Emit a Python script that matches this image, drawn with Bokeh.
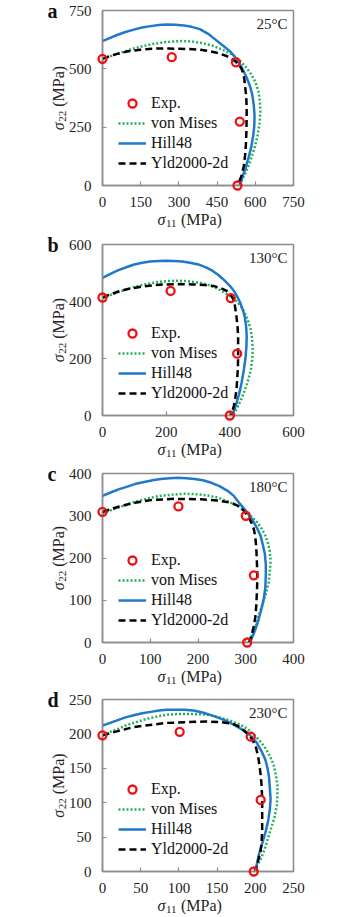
import math
from bokeh.plotting import figure
from bokeh.layouts import column
from bokeh.models import Legend, LegendItem, Label, FixedTicker, Range1d
from bokeh.core.properties import value
from bokeh.embed import file_html
from bokeh.resources import INLINE

FONT = "Liberation Serif"
GRAY = "#8c8c8c"
C_EXP = "#EE1111"
C_VM = "#22B05A"
C_HILL = "#1F78C8"
C_YLD = "#000000"

# ---------------- panel a : 25 C ----------------
a_exp_x = [0, 272, 524, 539, 530]
a_exp_y = [543, 550, 528, 274, 0]
a_vm_x = [0, 35, 70, 110, 150, 190, 230, 270, 310, 350, 390, 430, 470, 505, 535, 560, 582, 600, 612, 618, 620, 617, 610, 598, 582, 562, 537]
a_vm_y = [543, 555, 568, 583, 595, 605, 612, 617, 619, 617, 611, 600, 583, 563, 540, 512, 480, 445, 405, 360, 315, 270, 220, 165, 110, 55, 0]
a_hill_x = [0, 30, 60, 90, 123, 155, 190, 220, 252, 285, 320, 350, 382, 415, 446, 475, 500, 520, 537, 552, 565, 578, 588, 594, 597, 596, 592, 585, 575, 563, 550, 539]
a_hill_y = [619, 633, 646, 658, 668, 677, 683, 688, 690, 689, 686, 680, 670, 650, 623, 598, 576, 551, 523, 495, 465, 430, 390, 345, 300, 255, 215, 170, 125, 80, 38, 0]
a_yld_x = [0, 30, 60, 100, 149, 213, 260, 300, 340, 382, 420, 455, 485, 505, 522, 537, 547, 553, 557, 560, 563, 565, 566, 566, 565, 563, 560, 555, 547, 538, 530]
a_yld_y = [543, 555, 565, 575, 582, 587, 587, 586, 585, 582, 576, 567, 556, 545, 532, 516, 498, 478, 455, 425, 395, 366, 330, 290, 230, 175, 130, 85, 45, 20, 0]

# ---------------- panel b : 130 C ----------------
b_exp_x = [0, 214, 403, 423, 400]
b_exp_y = [414, 437, 412, 217, 0]
b_vm_x = [0, 30, 60, 90, 120, 150, 180, 210, 240, 270, 300, 330, 352, 375, 400, 423, 440, 455, 465, 470, 472, 470, 466, 459, 452, 443, 433, 422, 410]
b_vm_y = [412, 425, 437, 448, 457, 464, 469, 472, 473, 471, 467, 459, 450, 437, 419, 399, 375, 340, 305, 270, 230, 195, 160, 130, 104, 77, 50, 25, 0]
b_hill_x = [0, 25, 50, 75, 97, 125, 150, 175, 199, 225, 250, 275, 301, 325, 345, 365, 383, 400, 413, 423, 433, 441, 447, 451, 453, 452, 449, 444, 437, 429, 420, 408]
b_hill_y = [483, 497, 510, 520, 529, 536, 540, 542, 543, 542, 540, 536, 530, 520, 508, 492, 474, 455, 437, 418, 395, 370, 345, 315, 280, 240, 200, 160, 115, 75, 40, 0]
b_yld_x = [0, 25, 50, 80, 117, 160, 199, 240, 280, 320, 350, 372, 390, 402, 410, 415, 418, 421, 424, 426, 426, 426, 425, 423, 421, 417, 413, 408, 403]
b_yld_y = [414, 425, 435, 444, 451, 457, 460, 461, 460, 458, 454, 447, 437, 425, 410, 392, 370, 345, 315, 280, 240, 200, 160, 125, 92, 60, 35, 15, 0]

# ---------------- panel c : 180 C ----------------
c_exp_x = [0, 159, 300, 317, 303]
c_exp_y = [309, 322, 300, 159, 0]
c_vm_x = [0, 17, 35, 52, 68, 95, 120, 146, 172, 200, 225, 241, 260, 280, 296, 310, 322, 332, 340, 346, 350, 352, 351, 348, 342, 334, 326, 319, 312, 305]
c_vm_y = [305, 313, 320, 327, 333, 341, 347, 350, 352, 351, 347, 343, 335, 325, 313, 300, 287, 272, 255, 237, 218, 195, 175, 142, 115, 87, 60, 32, 15, 0]
c_hill_x = [0, 17, 35, 52, 68, 87, 105, 122, 140, 158, 175, 193, 210, 228, 245, 262, 275, 288, 303, 314, 323, 331, 336, 340, 342, 342, 341, 338, 333, 327, 320, 309]
c_hill_y = [347, 355, 363, 369, 375, 380, 384, 387, 389, 390, 389, 387, 384, 378, 370, 359, 347, 328, 308, 290, 272, 253, 230, 210, 185, 160, 130, 105, 80, 55, 30, 0]
c_yld_x = [0, 35, 68, 102, 150, 206, 240, 269, 285, 296, 305, 312, 317, 320, 322, 323, 324, 324, 323, 322, 320, 317, 313, 307]
c_yld_y = [309, 322, 331, 337, 340, 339, 336, 331, 323, 312, 298, 283, 268, 250, 225, 200, 170, 140, 110, 87, 60, 39, 20, 0]

# ---------------- panel d : 230 C ----------------
d_exp_x = [0, 101, 194, 207, 198]
d_exp_y = [198, 203, 196, 104, 0]
d_vm_x = [0, 10, 20, 30, 41, 55, 70, 85, 101, 118, 136, 150, 165, 179, 190, 200, 208, 214, 219, 224, 227, 229, 229, 228, 225, 221, 217, 213, 208, 203, 198]
d_vm_y = [198, 203, 207, 212, 216, 221, 225, 228, 229, 229, 228, 225, 220, 214, 207, 197, 187, 178, 168, 155, 140, 125, 110, 95, 78, 64, 50, 35, 20, 10, 0]
d_hill_x = [0, 10, 20, 30, 41, 52, 63, 74, 84, 95, 107, 119, 131, 143, 153, 162, 171, 180, 188, 195, 202, 208, 213, 216, 218, 219, 220, 219, 217, 214, 210, 205, 200]
d_hill_y = [212, 216, 220, 224, 227, 230, 232, 234, 235, 235, 235, 234, 231, 227, 223, 219, 214, 208, 203, 196, 187, 175, 163, 150, 137, 122, 105, 90, 75, 60, 44, 26, 0]
d_yld_x = [0, 20, 41, 62, 84, 110, 136, 155, 170, 178, 185, 192, 197, 201, 204, 206, 207, 208, 209, 209, 209, 208, 207, 205, 203, 200]
d_yld_y = [198, 204, 210, 213, 216, 217, 218, 217, 215, 211, 205, 198, 190, 180, 165, 150, 140, 128, 108, 85, 59, 40, 30, 22, 12, 0]

letters = ["a", "b", "c", "d"]
temps = ["25°C", "130°C", "180°C", "230°C"]
axis_max = [750, 600, 400, 250]
ticks_x = [[0, 150, 300, 450, 600, 750], [0, 200, 400, 600], [0, 100, 200, 300, 400], [0, 50, 100, 150, 200, 250]]
ticks_y = [[0, 250, 500, 750], [0, 200, 400, 600], [0, 100, 200, 300, 400], [0, 50, 100, 150, 200, 250]]
legend_labels = ["Exp.", "von Mises", "Hill48", "Yld2000-2d"]
# axis titles: symbol, subscript, unit
x_title = ("σ", "11", "(MPa)")
y_title = ("σ", "22", "(MPa)")

series = [
    (a_exp_x, a_exp_y, a_vm_x, a_vm_y, a_hill_x, a_hill_y, a_yld_x, a_yld_y),
    (b_exp_x, b_exp_y, b_vm_x, b_vm_y, b_hill_x, b_hill_y, b_yld_x, b_yld_y),
    (c_exp_x, c_exp_y, c_vm_x, c_vm_y, c_hill_x, c_hill_y, c_yld_x, c_yld_y),
    (d_exp_x, d_exp_y, d_vm_x, d_vm_y, d_hill_x, d_hill_y, d_yld_x, d_yld_y),
]

# layout (height, top border, bottom border) per panel
layout = [(229, 10, 44), (229, 15, 43), (229, 15, 45), (230, 12, 46)]
LEFT, RIGHT, W = 102, 63, 356
SIG_W, SUB_W, GAP = 8.5, 11.0, 4.0
UNIT_W = 41.0


def txt(p, x, y, s, size, style="normal", angle=0.0):
    p.text(x=[x], y=[y], text=[s], text_font=value(FONT), text_font_size=size,
           text_font_style=style, text_align="left", text_baseline="middle",
           text_color="#222222", angle=angle, level="overlay")


def make_panel(i):
    h, top, bottom = layout[i]
    vmax = axis_max[i]
    ex, ey, vx, vy, hx, hy, yx, yy = series[i]
    p = figure(width=W, height=h, x_range=Range1d(0, vmax), y_range=Range1d(0, vmax),
               output_backend="svg", toolbar_location=None,
               min_border_left=LEFT, min_border_right=RIGHT,
               min_border_top=top, min_border_bottom=bottom)
    p.grid.visible = False
    p.outline_line_color = GRAY
    p.outline_line_width = 1.5
    p.background_fill_color = "white"
    p.border_fill_color = "white"
    for ax, tk in ((p.xaxis[0], ticks_x[i]), (p.yaxis[0], ticks_y[i])):
        ax.ticker = FixedTicker(ticks=tk)
        ax.axis_line_color = GRAY
        ax.axis_line_width = 1.5
        ax.major_tick_line_color = GRAY
        ax.major_tick_line_width = 1.2
        ax.major_tick_in = 4
        ax.major_tick_out = 0
        ax.minor_tick_line_color = None
        ax.major_label_text_font = FONT
        ax.major_label_text_font_size = "15px"
        ax.major_label_text_color = "#222222"
        ax.major_label_standoff = 11

    r_vm = p.line(vx, vy, line_color=C_VM, line_width=2.5, line_dash="2 2", line_join="round")
    r_hill = p.line(hx, hy, line_color=C_HILL, line_width=2.5, line_join="round")
    r_yld = p.line(yx, yy, line_color=C_YLD, line_width=2.5, line_dash="7 4", line_join="round")
    r_exp = p.scatter(ex, ey, marker="circle", size=8, line_color=C_EXP, line_width=2.3,
                      fill_color=None, level="overlay")

    legend = Legend(items=[LegendItem(label=legend_labels[0], renderers=[r_exp]),
                           LegendItem(label=legend_labels[1], renderers=[r_vm]),
                           LegendItem(label=legend_labels[2], renderers=[r_hill]),
                           LegendItem(label=legend_labels[3], renderers=[r_yld])],
                    location=(16, 12), background_fill_alpha=0, border_line_color=None,
                    label_text_font=FONT, label_text_font_size="16px", label_text_color="#111111",
                    glyph_width=28, glyph_height=20, label_height=20, label_standoff=5,
                    spacing=0, padding=0, margin=0)
    p.add_layout(legend)

    fh = h - top - bottom
    fw = W - LEFT - RIGHT
    px_x = vmax / fw
    px_y = vmax / fh

    # x-axis title, composed: italic sigma + subscript + unit (middle line below the frame)
    x0, mid = 55.0, -34.0
    txt(p, x0 * px_x, mid * px_y, x_title[0], "16px", "italic")
    txt(p, (x0 + SIG_W) * px_x, (mid - 4) * px_y, x_title[1], "11px")
    txt(p, (x0 + SIG_W + SUB_W + GAP) * px_x, mid * px_y, x_title[2], "16px")

    # y-axis title, rotated
    total = SIG_W + SUB_W + GAP + UNIT_W
    y0 = fh / 2 - total / 2
    mx = -44.0
    ang = math.pi / 2
    txt(p, mx * px_x, y0 * px_y, y_title[0], "16px", "italic", ang)
    txt(p, (mx + 4) * px_x, (y0 + SIG_W) * px_y, y_title[1], "11px", "normal", ang)
    txt(p, mx * px_x, (y0 + SIG_W + SUB_W + GAP) * px_y, y_title[2], "16px", "normal", ang)

    # panel letter, left of the top y tick label
    p.text(x=[-55 * px_x], y=[vmax], text=[letters[i]], text_font=value(FONT),
           text_font_size="20px", text_font_style="bold", text_align="left",
           text_baseline="middle", text_color="#111111", level="overlay")
    p.add_layout(Label(x=vmax - 6 * px_x, y=vmax - 5 * px_y, text=temps[i],
                       text_font=FONT, text_font_size="15px",
                       text_align="right", text_baseline="top", text_color="#222222"))
    return p


plots = [make_panel(i) for i in range(4)]
layout_obj = column(*plots, spacing=0)
open("out.html", "w").write(file_html(layout_obj, INLINE))
